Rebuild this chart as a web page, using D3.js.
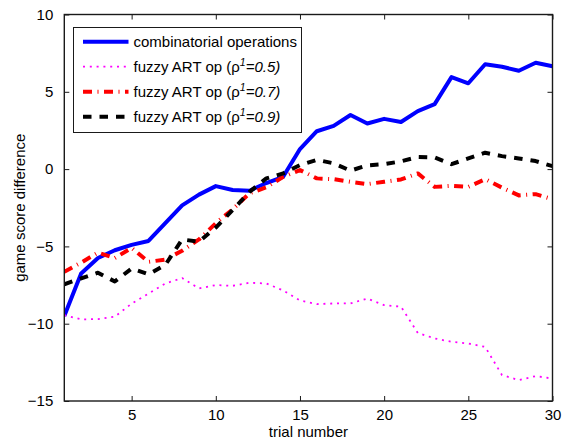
<!DOCTYPE html>
<html><head><meta charset="utf-8">
<script src="https://cdn.jsdelivr.net/npm/d3@7"></script>
<style>body{margin:0;background:#fff}svg{display:block}text{font-family:"Liberation Sans",Arial,Helvetica,sans-serif}</style>
</head><body><div id="c"></div>
<script>
const trials = d3.range(1, 31);
const combinatorial = [-9.5,-6.75,-5.75,-5.25,-4.9,-4.65,-3.5,-2.35,-1.65,-1.1,-1.35,-1.4,-0.9,-0.5,1.3,2.45,2.8,3.5,2.95,3.25,3.05,3.75,4.2,5.95,5.55,6.78,6.62,6.36,6.88,6.65];
const fuzzy05 = [-9.45,-9.72,-9.7,-9.55,-8.7,-8.05,-7.4,-7.05,-7.72,-7.5,-7.55,-7.35,-7.4,-7.85,-8.5,-8.73,-8.69,-8.69,-8.37,-8.8,-8.9,-10.6,-10.95,-11.17,-11.28,-11.5,-13.32,-13.65,-13.39,-13.55];
const fuzzy07 = [-6.64,-6.05,-5.4,-5.75,-5.1,-6.0,-5.85,-5.28,-4.55,-3.5,-2.6,-1.57,-1.18,-0.5,-0.06,-0.6,-0.65,-0.82,-0.97,-0.82,-0.67,-0.28,-1.15,-1.08,-1.15,-0.65,-1.2,-1.7,-1.62,-1.95];
const fuzzy09 = [-7.45,-7.07,-6.7,-7.27,-6.43,-6.8,-6.2,-4.55,-4.7,-3.78,-2.65,-1.47,-0.6,-0.28,0.26,0.6,0.37,-0.1,0.24,0.32,0.5,0.78,0.75,0.32,0.69,1.06,0.84,0.69,0.52,0.19];
const xTicks = [5,10,15,20,25,30];
const yTicks = [-15,-10,-5,0,5,10];
const seriesNames = ["combinatorial operations","fuzzy ART op (ρ","fuzzy ART op (ρ","fuzzy ART op (ρ"];
const rhoValues = [null,"=0.5)","=0.7)","=0.9)"];

const W = 569, H = 440;
const L = 64.3, R = 552.5, T = 14.5, B = 401;
const FS = "15px";
const svg = d3.select("#c").append("svg").attr("width", W).attr("height", H);
const x = d3.scaleLinear().domain([1,30]).range([L,R]);
const y = d3.scaleLinear().domain([-15,10]).range([B,T]);

const styles = [
  {data: combinatorial, color:"#0000ff", w:4, dash:null},
  {data: fuzzy05, color:"#ff00ff", w:1.8, dash:"2,4.8"},
  {data: fuzzy07, color:"#ff0000", w:4, dash:"9,5.5,1,5.5"},
  {data: fuzzy09, color:"#000000", w:4, dash:"8.5,8"}
];

const axCol = "#1a1a1a";
function styleAxis(g){ g.select(".domain").remove(); g.selectAll("line").attr("stroke",axCol).attr("stroke-width",1); g.selectAll("text").attr("font-size",FS).attr("fill","#000"); }
const fmt = d => d < 0 ? "\u2212" + Math.abs(d) : String(d);
svg.append("g").attr("transform",`translate(0,${B})`).call(d3.axisBottom(x).tickValues(xTicks).tickSizeInner(-5).tickSizeOuter(0).tickPadding(8).tickFormat(fmt)).call(styleAxis);
svg.append("g").attr("transform",`translate(0,${T})`).call(d3.axisTop(x).tickValues(xTicks).tickSizeInner(-5).tickSizeOuter(0).tickFormat("")).call(styleAxis);
svg.append("g").attr("transform",`translate(${L},0)`).call(d3.axisLeft(y).tickValues(yTicks).tickSizeInner(-5).tickSizeOuter(0).tickPadding(11).tickFormat(fmt)).call(styleAxis);
svg.append("g").attr("transform",`translate(${R},0)`).call(d3.axisRight(y).tickValues(yTicks).tickSizeInner(-5).tickSizeOuter(0).tickFormat("")).call(styleAxis);

const line = d3.line().x((d,i)=>x(trials[i])).y(d=>y(d));
svg.append("clipPath").attr("id","pc").append("rect").attr("x",L).attr("y",T).attr("width",R-L).attr("height",B-T);
styles.forEach(s=>{
  svg.append("path").datum(s.data).attr("d",line).attr("fill","none")
    .attr("stroke",s.color).attr("stroke-width",s.w).attr("stroke-dasharray",s.dash)
    .attr("stroke-linejoin","round").attr("clip-path","url(#pc)");
});

svg.append("rect").attr("x",L).attr("y",T).attr("width",R-L).attr("height",B-T)
  .attr("fill","none").attr("stroke",axCol).attr("stroke-width",1.4);

const lg = svg.append("g");
lg.append("rect").attr("x",73.5).attr("y",27.5).attr("width",228).attr("height",105).attr("fill","#fff").attr("stroke",axCol).attr("stroke-width",1);
styles.forEach((s,i)=>{
  const yy = 41.7 + i*25;
  lg.append("line").attr("x1",83).attr("x2",128.5).attr("y1",yy).attr("y2",yy)
    .attr("stroke",s.color).attr("stroke-width",s.w).attr("stroke-dasharray",s.dash);
  const t = lg.append("text").attr("x",133.5).attr("y",yy+5.5).attr("font-size",FS).attr("fill","#000");
  t.append("tspan").text(seriesNames[i]);
  if (rhoValues[i]) {
    t.append("tspan").attr("font-size","10.5px").attr("font-style","italic").attr("dy",-6).text("1");
    t.append("tspan").attr("font-style","italic").attr("dy",6).text(rhoValues[i]);
  }
});

svg.append("text").attr("x",(L+R)/2).attr("y",437).attr("text-anchor","middle").attr("font-size",FS).text("trial number");
svg.append("text").attr("transform",`translate(25,${(T+B)/2}) rotate(-90)`).attr("text-anchor","middle").attr("font-size",FS).text("game score difference");
</script></body></html>
